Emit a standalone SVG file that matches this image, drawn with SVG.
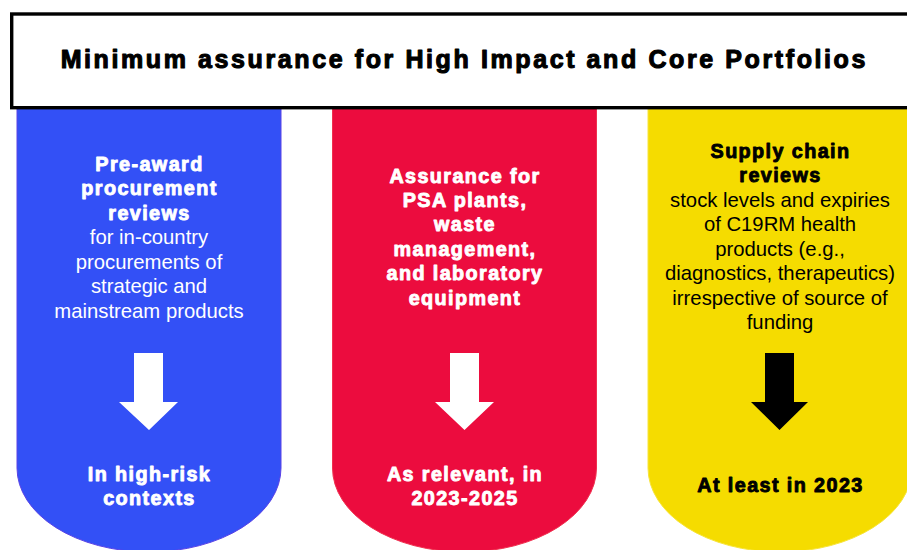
<svg xmlns="http://www.w3.org/2000/svg" width="907" height="550" viewBox="0 0 907 550">
<style>
text{font-family:"Liberation Sans",Arial,sans-serif;text-anchor:middle}
.b{font-weight:bold;font-size:19.8px;letter-spacing:1.4px;stroke-width:0.9px;stroke-linejoin:round}
.r{font-size:20.3px}
.w{fill:#ffffff}
.b.w{stroke:#ffffff}
.k{fill:#000000}
.b.k{stroke:#000000}
.title{font-weight:bold;font-size:25px;letter-spacing:2.6px;fill:#000;stroke:#000;stroke-width:1.1px;stroke-linejoin:round}
</style>
<rect width="907" height="550" fill="#ffffff"/>
<g id="col-blue">
<path d="M17,100 V468 A132,84 0 0 0 281,468 V100 Z" fill="#3350F6" stroke="#5A43E6" stroke-width="1"/>
<polygon points="134,353 163,353 163,402 178,402 149,430 119,402 134,402" fill="#ffffff"/>
<text class="b w" x="149.5" y="170.5">Pre-award</text>
<text class="b w" x="149.5" y="195">procurement</text>
<text class="b w" x="149.5" y="219.5">reviews</text>
<text class="r w" x="149" y="244">for in-country</text>
<text class="r w" x="149" y="268.5">procurements of</text>
<text class="r w" x="149" y="293">strategic and</text>
<text class="r w" x="149" y="317.5">mainstream products</text>
<text class="b w" x="149.5" y="481">In high-risk</text>
<text class="b w" x="149.5" y="505">contexts</text>
</g>
<g id="col-red">
<path d="M332.5,100 V468 A132,84 0 0 0 596.5,468 V100 Z" fill="#EC0C3E" stroke="#F0304F" stroke-width="1"/>
<polygon points="450,353 479,353 479,402 494,402 464.5,430 435,402 450,402" fill="#ffffff"/>
<text class="b w" x="465" y="182.7">Assurance for</text>
<text class="b w" x="465" y="207">PSA plants,</text>
<text class="b w" x="465" y="231.3">waste</text>
<text class="b w" x="465" y="255.8">management,</text>
<text class="b w" x="465" y="280.2">and laboratory</text>
<text class="b w" x="465" y="304.5">equipment</text>
<text class="b w" x="465" y="481">As relevant, in</text>
<text class="b w" x="465" y="505.3">2023-2025</text>
</g>
<g id="col-yellow">
<path d="M648,100 V468 A132,84 0 0 0 912,468 V100 Z" fill="#F5DC00" stroke="#F7E43A" stroke-width="1"/>
<polygon points="765,353 794,353 794,402 808,402 779.5,430 751,402 765,402" fill="#000000"/>
<text class="b k" x="780.5" y="157.7">Supply chain</text>
<text class="b k" x="780.5" y="181.8">reviews</text>
<text class="r k" x="780" y="206.5">stock levels and expiries</text>
<text class="r k" x="780" y="231">of C19RM health</text>
<text class="r k" x="780" y="255.5">products (e.g.,</text>
<text class="r k" x="780" y="280.3">diagnostics, therapeutics)</text>
<text class="r k" x="780" y="305">irrespective of source of</text>
<text class="r k" x="780" y="329.3">funding</text>
<text class="b k" x="780.5" y="491.7">At least in 2023</text>
</g>
<g id="title">
<rect x="11.7" y="14" width="905" height="93.7" fill="#ffffff" stroke="#000000" stroke-width="3.4"/>
<text class="title" x="464.3" y="68">Minimum assurance for High Impact and Core Portfolios</text>
</g>
<g id="connectors"></g>
</svg>
